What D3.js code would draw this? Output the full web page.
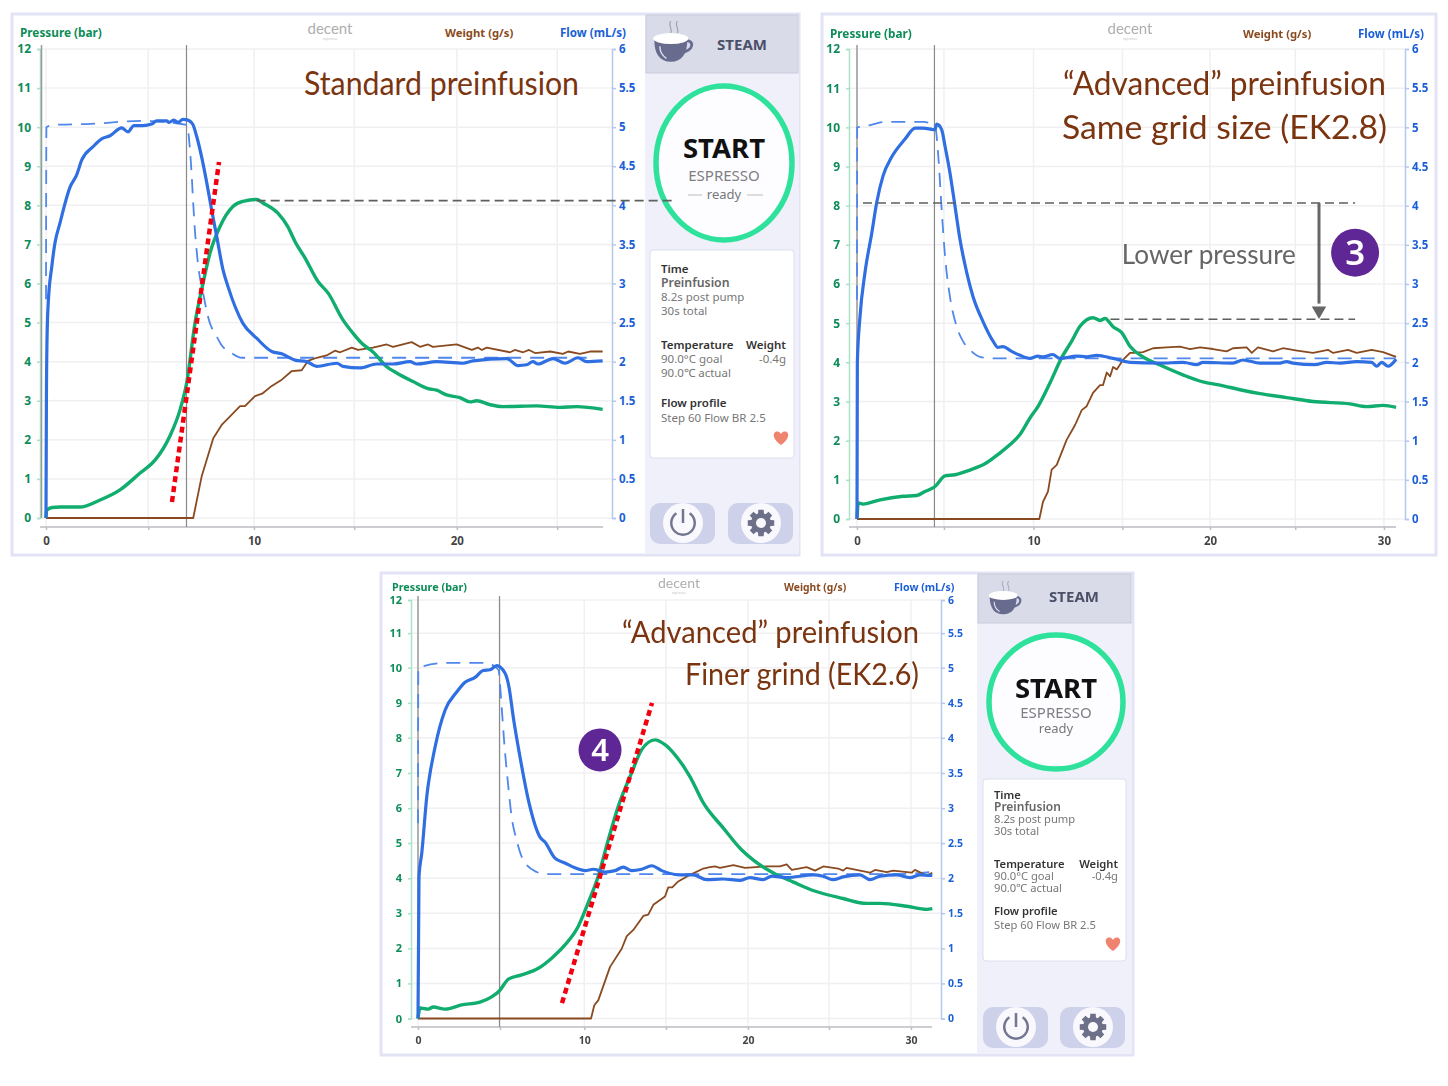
<!DOCTYPE html>
<html>
<head>
<meta charset="utf-8">
<title>Preinfusion comparison</title>
<script src="https://cdn.jsdelivr.net/npm/d3@7/dist/d3.min.js"></script>
<style>
  html, body { margin: 0; padding: 0; background: #fff; }
  svg { display: block; filter: blur(0.35px); }
  text { font-family: "Noto Sans", "Open Sans", sans-serif; }
</style>
</head>
<body>
<div id="chart"></div>
<script>
/* Three espresso shot graphs: [seconds, value] pairs.
   Pressure is in bar (left axis), flow and weight on the right axis. */

var PRESSURE_TICKS = [0, 1, 2, 3, 4, 5, 6, 7, 8, 9, 10, 11, 12];
// the lower chart's rows are slightly uneven in the picture
var FINE_PRESSURE_TICKS = [0, 1.006, 2.01, 3.02, 4.02, 5.03, 6.03, 7.04, 8.05, 9.05, 10.06, 11.05, 12];

// the time gridlines in the picture are a little uneven, so these are read too
var STD_TIME_TICKS = [0, 5, 10.17, 15.07, 20.09, 25];
var ADV_TIME_TICKS = [0, 4.94, 10.03, 15.08, 20.06, 24.9, 29.94];
var FINE_TIME_TICKS = [0, 5, 10.14, 15.12, 20.12, 25.06, 30.06];

var STD_PRESSURE = [[0,0],[0.03,0.2],[0.3,0.27],[0.68,0.28],[1.66,0.28],[2.64,0.46],[3.62,0.72],[4.6,1.15],[5.33,1.48],[6.06,2.1],[6.55,2.76],[6.88,3.46],[7.29,5.0],[7.68,6.01],[8.02,6.78],[8.51,7.46],[9.14,7.97],[9.63,8.1],[10.3,8.15],[10.61,8.06],[11.34,7.8],[11.83,7.45],[12.18,7.07],[12.67,6.65],[13.3,6.05],[13.79,5.76],[14.52,5.07],[15.01,4.73],[15.44,4.47],[15.99,4.25],[16.66,3.87],[17.15,3.71],[17.95,3.49],[18.68,3.31],[19.1,3.27],[19.59,3.15],[20.24,3.08],[20.73,2.97],[21.06,3.0],[21.71,2.9],[22.35,2.85],[24.0,2.87],[25.13,2.83],[25.95,2.85],[27.22,2.78]];
var STD_FLOW = [[0,0],[0.02,1.5],[0.05,2.28],[0.11,2.75],[0.28,3.21],[0.44,3.52],[0.68,3.77],[1.17,4.23],[1.5,4.39],[1.75,4.58],[2.3,4.75],[2.72,4.85],[3.13,4.89],[3.7,4.99],[4.01,4.94],[4.3,5.02],[4.74,5.02],[5.17,5.04],[5.41,5.08],[5.9,5.08],[6.01,5.06],[6.26,5.09],[6.45,5.06],[6.7,5.1],[6.94,5.09],[7.17,5.04],[7.37,4.88],[7.61,4.62],[7.86,4.29],[8.1,3.94],[8.35,3.6],[8.66,3.17],[8.9,2.96],[9.63,2.49],[10.3,2.3],[11.04,2.13],[11.53,2.1],[12.18,2.02],[12.75,2.0],[13.24,1.94],[14.22,1.98],[14.52,1.94],[15.35,1.92],[16.17,1.97],[16.97,1.97],[17.8,2.0],[18.13,1.97],[19.1,2.0],[20.39,1.98],[20.88,2.01],[22.53,2.04],[23.08,1.95],[23.5,1.96],[23.81,2.0],[24.06,1.97],[24.79,2.04],[25.38,1.98],[26.01,2.05],[26.44,2.0],[27.22,2.01]];
var STD_FLOW_GOAL = [[0,2.8],[0.02,5.0],[0.44,5.03],[2,5.04],[4.7,5.08],[6.9,5.03],[7.04,4.71],[7.29,3.65],[7.45,3.21],[7.68,2.88],[7.97,2.53],[8.35,2.32],[8.59,2.21],[9.08,2.11],[9.57,2.05],[10.3,2.05],[26.44,2.05]];
var STD_WEIGHT = [[0,0],[7.2,0],[7.61,0.53],[8.18,1.02],[8.59,1.19],[9.0,1.3],[9.49,1.43],[9.73,1.43],[10.22,1.56],[10.57,1.59],[11.04,1.69],[11.53,1.77],[12.02,1.88],[12.5,1.89],[12.81,2.01],[13.24,2.05],[13.72,2.08],[14.13,2.14],[14.38,2.12],[14.95,2.18],[15.26,2.15],[15.99,2.18],[16.66,2.22],[16.97,2.19],[17.88,2.25],[18.29,2.19],[18.68,2.22],[18.92,2.19],[20.08,2.22],[20.82,2.15],[21.12,2.18],[21.31,2.15],[21.55,2.18],[22.69,2.12],[22.93,2.15],[23.33,2.12],[23.62,2.15],[23.91,2.11],[24.65,2.13],[25.28,2.1],[25.53,2.13],[26.11,2.1],[26.6,2.13],[27.22,2.13]];

var ADV_PRESSURE = [[0,0],[0.07,0.41],[0.34,0.38],[1.31,0.49],[2.61,0.58],[3.39,0.6],[3.86,0.7],[4.43,0.83],[5.0,1.1],[5.57,1.13],[6.42,1.25],[7.27,1.41],[8.13,1.69],[8.7,1.9],[9.26,2.16],[9.83,2.58],[10.28,2.87],[10.97,3.48],[11.63,4.12],[12.2,4.54],[12.67,4.92],[13.41,5.14],[13.81,5.07],[14.09,5.12],[14.55,4.91],[15.04,4.76],[15.51,4.41],[16.25,4.14],[17.22,3.93],[18.52,3.68],[19.66,3.5],[20.63,3.42],[21.76,3.3],[22.9,3.2],[24.41,3.1],[25.91,3.0],[28.01,2.94],[28.96,2.87],[29.89,2.9],[30.63,2.85]];
var ADV_FLOW = [[0,0],[0.02,2.0],[0.17,2.58],[0.45,3.14],[0.84,3.65],[1.12,4.04],[1.48,4.38],[1.97,4.62],[2.73,4.85],[3.3,4.99],[3.75,4.99],[4.43,4.97],[4.53,5.04],[4.81,4.97],[5.0,4.76],[5.28,4.42],[5.57,3.99],[5.85,3.57],[6.23,3.15],[6.59,2.84],[7.16,2.52],[7.73,2.27],[8.01,2.19],[8.28,2.2],[8.79,2.14],[9.26,2.09],[9.83,2.05],[10.28,2.08],[10.57,2.07],[11.12,2.1],[11.53,2.05],[12.48,2.08],[13.05,2.07],[13.62,2.09],[14.55,2.05],[15.51,2.0],[17.22,1.99],[18.52,2.0],[19.3,1.97],[19.66,2.0],[21.36,1.99],[21.93,2.03],[22.9,1.99],[24.03,1.99],[24.41,2.01],[24.77,1.99],[26.02,1.97],[26.69,2.0],[27.44,1.99],[28.39,2.01],[29.24,2.0],[29.53,1.95],[29.81,2.0],[30.17,1.95],[30.63,2.04]];
var ADV_FLOW_GOAL = [[0,2.8],[0.01,5.0],[0.36,5.01],[1.69,5.07],[3.75,5.07],[4.43,5.02],[4.62,4.63],[4.81,3.95],[5.0,3.36],[5.28,2.84],[5.66,2.46],[6.02,2.27],[6.42,2.16],[6.99,2.07],[7.73,2.05],[30.6,2.05]];
var ADV_WEIGHT = [[0,0],[10.36,0],[10.57,0.22],[10.85,0.35],[11.06,0.63],[11.35,0.69],[11.91,1.01],[12.39,1.2],[12.77,1.39],[13.05,1.44],[13.41,1.61],[13.81,1.71],[13.98,1.71],[14.19,1.87],[14.38,1.82],[14.55,1.94],[14.76,1.91],[15.11,2.03],[15.51,2.12],[15.68,2.12],[16.25,2.13],[16.82,2.18],[17.6,2.19],[18.35,2.2],[18.92,2.17],[19.49,2.19],[20.23,2.17],[21.0,2.14],[21.36,2.18],[22.14,2.19],[22.43,2.12],[22.78,2.19],[23.64,2.14],[24.2,2.18],[25.0,2.15],[25.91,2.12],[26.76,2.16],[27.05,2.12],[27.9,2.16],[28.39,2.12],[29.24,2.16],[29.89,2.13],[30.63,2.07]];

var FINE_PRESSURE = [[0,0],[0.12,0.3],[0.63,0.27],[0.93,0.33],[1.65,0.27],[2.66,0.39],[3.78,0.47],[4.49,0.62],[4.96,0.79],[5.51,1.13],[6.32,1.25],[7.34,1.44],[8.15,1.73],[8.96,2.11],[9.77,2.64],[10.38,3.32],[10.99,4.08],[11.6,5.12],[12.21,6.08],[13.03,7.05],[13.64,7.71],[14.45,7.99],[15.06,7.85],[15.67,7.56],[16.59,6.93],[17.4,6.18],[18.62,5.46],[19.74,4.83],[20.45,4.54],[21.67,4.17],[22.89,3.91],[24.09,3.67],[25.92,3.44],[27.35,3.3],[28.17,3.3],[29.8,3.22],[31.02,3.13],[31.36,3.15]];
var FINE_FLOW = [[0,0],[0.06,2.03],[0.23,2.37],[0.53,3.17],[1.04,3.89],[1.65,4.42],[2.36,4.68],[2.87,4.82],[3.48,4.89],[3.98,4.99],[4.39,5.0],[4.8,5.06],[5.31,4.95],[5.55,4.75],[5.81,4.32],[6.22,3.75],[6.77,3.09],[7.44,2.6],[7.74,2.53],[8.35,2.3],[8.96,2.23],[9.57,2.16],[10.18,2.12],[10.69,2.14],[11.4,2.1],[12.01,2.12],[12.52,2.17],[13.03,2.12],[13.64,2.14],[14.25,2.19],[14.86,2.12],[15.98,2.06],[16.77,2.06],[17.6,1.99],[18.6,2.0],[19.63,1.98],[20.24,2.02],[21.04,1.99],[21.57,2.04],[22.48,2.02],[24.09,2.06],[24.7,2.04],[25.3,1.99],[25.91,2.03],[26.95,2.06],[27.56,1.99],[28.17,2.04],[29.19,2.06],[30.0,2.02],[30.61,2.06],[31.36,2.05]];
var FINE_FLOW_GOAL = [[0,2.8],[0.02,5.03],[1.85,5.1],[4.09,5.1],[4.9,5.0],[5.1,4.47],[5.26,3.95],[5.51,3.32],[5.71,2.89],[6.01,2.56],[6.42,2.27],[7.24,2.1],[7.74,2.07],[29.0,2.07],[31.3,2.1]];
var FINE_WEIGHT = [[0,0],[10.55,0],[10.75,0.19],[10.99,0.26],[11.71,0.74],[12.42,1.0],[12.73,1.18],[13.13,1.27],[13.74,1.47],[14.04,1.49],[14.35,1.63],[15.06,1.75],[15.26,1.88],[15.5,1.88],[15.84,1.96],[16.59,2.06],[17.4,2.15],[17.8,2.17],[18.11,2.18],[18.41,2.16],[19.23,2.2],[19.94,2.16],[21.26,2.18],[22.07,2.18],[22.48,2.21],[22.79,2.13],[23.7,2.17],[24.21,2.12],[24.71,2.18],[25.62,2.15],[25.92,2.12],[26.13,2.16],[27.56,2.09],[27.87,2.13],[28.58,2.1],[28.98,2.12],[30.1,2.09],[30.3,2.13],[31.02,2.05],[31.36,2.09]];

var COLOR_PRESSURE = '#10ad6e';
var COLOR_FLOW = '#2f6fe2';
var COLOR_GOAL = '#4f87ec';
var COLOR_WEIGHT = '#8a4a20';
var COLOR_TITLE = '#7b3410';
var COLOR_FRAME = '#e2e4f5';
var COLOR_SIDE = '#eff0fa';
var COLOR_PURPLE = '#5e2795';

var svg = d3.select('#chart').append('svg')
  .attr('width', 1448)
  .attr('height', 1086);

function addText(g, x, y, str, size, color, weight, anchor) {
  return g.append('text')
    .attr('x', x).attr('y', y)
    .attr('font-size', size)
    .attr('fill', color)
    .attr('font-weight', weight || 400)
    .attr('text-anchor', anchor || 'start')
    .text(str);
}

function drawChart(c) {
  var g = svg.append('g');

  g.append('rect')
    .attr('x', c.frame[0]).attr('y', c.frame[1])
    .attr('width', c.frame[2]).attr('height', c.frame[3])
    .attr('fill', '#fff').attr('stroke', COLOR_FRAME).attr('stroke-width', 3);

  var x = d3.scaleLinear().domain([0, 10]).range([c.x0, c.x10]);
  var yP = d3.scaleLinear().domain([0, 12]).range([c.yBottom, c.yTop]);
  var yF = d3.scaleLinear().domain([0, 6]).range([c.yBottom, c.yTop]);
  var flowTicks = c.levelTicks.map(function (d) { return d / 2; });

  // gridlines
  g.append('g').selectAll('line').data(c.levelTicks).join('line')
    .attr('x1', c.leftX).attr('x2', c.rightX)
    .attr('y1', yP).attr('y2', yP)
    .attr('stroke', '#f0f0f2').attr('stroke-width', 1.5);
  g.append('g').selectAll('line').data(c.timeTicks).join('line')
    .attr('x1', x).attr('x2', x)
    .attr('y1', c.yTop).attr('y2', c.axisY)
    .attr('stroke', '#f0f0f3').attr('stroke-width', 1.5);

  // axes
  var left = g.append('g')
    .attr('transform', 'translate(' + c.leftX + ',0)')
    .call(d3.axisLeft(yP).tickValues(c.levelTicks).tickSize(3).tickPadding(6)
      .tickFormat(function (d) { return Math.round(d); }));
  left.selectAll('path, line').attr('stroke', '#a9e2c6').attr('stroke-width', 1.5);
  left.selectAll('text').attr('fill', '#0d8c58').attr('font-weight', 700)
    .attr('font-size', c.tickFont);

  var right = g.append('g')
    .attr('transform', 'translate(' + c.rightX + ',0)')
    .call(d3.axisRight(yF).tickValues(flowTicks).tickSize(4).tickPadding(3)
      .tickFormat(function (d) { return Math.round(d * 2) / 2; }));
  right.selectAll('path, line').attr('stroke', '#b3c8ee').attr('stroke-width', 1.5);
  right.selectAll('text').attr('fill', '#1b5fd6').attr('font-weight', 700)
    .attr('font-size', c.tickFont - 0.5);

  var bottom = g.append('g')
    .attr('transform', 'translate(0,' + c.axisY + ')')
    .call(d3.axisBottom(x).tickValues(c.timeTicks).tickSize(3).tickPadding(7)
      .tickFormat(function (d) {
        var label = Math.round(d / 5) * 5;
        return label % 10 === 0 ? label : '';
      }));
  bottom.select('.domain').attr('d', 'M' + c.leftX + ',0H' + c.xEnd);
  bottom.selectAll('path, line').attr('stroke', '#bdbdc2').attr('stroke-width', 1.5);
  bottom.selectAll('text').attr('fill', '#444').attr('font-weight', 700)
    .attr('font-size', c.tickFont - 0.5);

  // pump start and phase change markers
  g.append('line')
    .attr('x1', c.zeroLineX).attr('x2', c.zeroLineX)
    .attr('y1', c.yTop - 4).attr('y2', c.yBottom)
    .attr('stroke', '#9a9a9a').attr('stroke-width', 1.5);
  g.append('line')
    .attr('x1', x(c.stepAt)).attr('x2', x(c.stepAt))
    .attr('y1', c.yTop - 4).attr('y2', c.axisY)
    .attr('stroke', '#8a8a8a').attr('stroke-width', 1.2);

  // header labels
  addText(g, c.headX[0], c.headY, 'Pressure (bar)', c.headFont, '#0d8c58', 700);
  addText(g, c.headX[1], c.headY, 'Weight (g/s)', c.headFont - 0.5, '#8a4a20', 700);
  addText(g, c.headX[2], c.headY, 'Flow (mL/s)', c.headFont - 0.2, '#1b5fd6', 700);
  addText(g, c.logoX, c.logoY, 'decent', c.logoFont, '#aeaeae', 400, 'middle')
    .style('font-family', 'Lato');
  addText(g, c.logoX, c.logoY + 6, 'espresso', 3.5, '#c4c4c4', 400, 'middle');

  // titles
  c.titles.forEach(function (t) {
    addText(g, t.x, t.y, t.text, t.size, COLOR_TITLE, 400, t.anchor)
      .style('font-family', 'Lato')
      .attr('textLength', t.width)
      .attr('lengthAdjust', 'spacingAndGlyphs');
  });

  // series
  var lineP = d3.line().curve(d3.curveMonotoneX)
    .x(function (d) { return x(d[0]); }).y(function (d) { return yP(d[1]); });
  var lineF = d3.line().curve(d3.curveMonotoneX)
    .x(function (d) { return x(d[0]); }).y(function (d) { return yF(d[1]); });
  var lineW = d3.line()
    .x(function (d) { return x(d[0]); }).y(function (d) { return yF(d[1]); });

  function series(data, gen, color, width, dash) {
    g.append('path')
      .attr('d', gen(data))
      .attr('fill', 'none')
      .attr('stroke', color)
      .attr('stroke-width', width)
      .attr('stroke-linejoin', 'round')
      .attr('stroke-dasharray', dash || null);
  }

  series(c.goal, lineF, COLOR_GOAL, 1.8, '14 9');
  series(c.weight, lineW, COLOR_WEIGHT, 1.8);
  series(c.pressure, lineP, COLOR_PRESSURE, 3.4);
  series(c.flow, lineF, COLOR_FLOW, 3.2);

  return { x: x, y: yP };
}

function cupIcon(g, cx, cy, s) {
  var ic = g.append('g').attr('transform', 'translate(' + cx + ',' + cy + ') scale(' + s + ')');
  ic.append('path').attr('d', 'M-2,-20 C-5,-16 0,-13 -2,-9 M4,-20 C1,-16 6,-13 4,-9')
    .attr('fill', 'none').attr('stroke', '#9a9dae').attr('stroke-width', 1);
  ic.append('path').attr('d', 'M10,-2 C20,-4 20,8 6,9').attr('fill', 'none')
    .attr('stroke', '#676c8e').attr('stroke-width', 2.5);
  ic.append('path').attr('d', 'M-17,-3 H13 C13,10 8,17 -2,17 C-12,17 -17,10 -17,-3 Z').attr('fill', '#676c8e');
  ic.append('path').attr('d', 'M-12,3 C-12,8 -9,12 -6,14').attr('fill', 'none')
    .attr('stroke', '#e6e7f2').attr('stroke-width', 1.2);
  ic.append('ellipse').attr('cx', -2).attr('cy', -4).attr('rx', 16).attr('ry', 5).attr('fill', '#fff');
}

function gearPath(r) {
  var pts = [];
  d3.range(8).forEach(function (i) {
    var a = i * Math.PI / 4;
    [[-0.3, 0.74], [-0.2, 1], [0.2, 1], [0.3, 0.74]].forEach(function (p) {
      pts.push([Math.cos(a + p[0]) * r * p[1], Math.sin(a + p[0]) * r * p[1]]);
    });
  });
  return d3.line().curve(d3.curveLinearClosed)(pts);
}

function drawSidebar(s) {
  var g = svg.append('g');

  g.append('rect').attr('x', s.x).attr('y', s.y).attr('width', s.w).attr('height', s.h)
    .attr('fill', COLOR_SIDE);
  g.append('rect').attr('x', s.x + 1).attr('y', s.y).attr('width', s.w - 2).attr('height', s.steamH)
    .attr('fill', '#d9dbe9').attr('stroke', '#c9cbdc');
  cupIcon(g, s.cupX, s.cupY, s.cupScale);
  addText(g, s.steamX, s.steamY, 'STEAM', 15, '#4b5068', 700, 'middle');

  g.append('ellipse').attr('cx', s.cx).attr('cy', s.cy).attr('rx', s.rx).attr('ry', s.ry)
    .attr('fill', '#fdfdff').attr('stroke', '#2ee29c').attr('stroke-width', 5.5);
  addText(g, s.cx, s.startY, 'START', 27.5, '#111', 700, 'middle');
  addText(g, s.cx, s.espressoY, 'ESPRESSO', 15, '#7e7e84', 400, 'middle');
  addText(g, s.cx, s.readyY, 'ready', 13, '#77777c', 400, 'middle');
  if (s.readyDash) {
    [[-36, -22], [23, 39]].forEach(function (d) {
      g.append('line').attr('x1', s.cx + d[0]).attr('x2', s.cx + d[1])
        .attr('y1', s.readyY - 4).attr('y2', s.readyY - 4)
        .attr('stroke', '#bbb').attr('stroke-width', 1);
    });
  }

  g.append('rect').attr('x', s.cardX).attr('y', s.cardY).attr('width', s.cardW).attr('height', s.cardH)
    .attr('rx', 3).attr('fill', '#fff').attr('stroke', '#dcdef0');

  var tx = s.cardX + 11;
  var fs = s.cardFont;
  addText(g, tx, s.rows[0], 'Time', fs, '#333', 600);
  addText(g, tx, s.rows[1], 'Preinfusion', fs + 0.8, '#666', 600);
  addText(g, tx, s.rows[2], '8.2s post pump', fs, '#777');
  addText(g, tx, s.rows[3], '30s total', fs, '#777');
  addText(g, tx, s.rows[4], 'Temperature', fs, '#333', 600);
  addText(g, s.cardX + s.cardW - 8, s.rows[4], 'Weight', fs, '#333', 600, 'end');
  addText(g, tx, s.rows[5], '90.0°C goal', fs, '#777');
  addText(g, s.cardX + s.cardW - 8, s.rows[5], '-0.4g', fs, '#777', 400, 'end');
  addText(g, tx, s.rows[6], '90.0℃ actual', fs, '#777');
  addText(g, tx, s.rows[7], 'Flow profile', fs, '#333', 600);
  addText(g, tx, s.rows[8], 'Step 60 Flow BR 2.5', fs, '#777');

  g.append('path')
    .attr('transform', 'translate(' + s.heartX + ',' + s.heartY + ')')
    .attr('d', 'M0,7 C-10,0 -8,-7 -3.5,-6.5 C-1.5,-6.3 -0.5,-5 0,-4 C0.5,-5 1.5,-6.3 3.5,-6.5 C8,-7 10,0 0,7 Z')
    .attr('fill', '#f0836f');

  // power and settings buttons
  s.buttons.forEach(function (b, i) {
    g.append('rect').attr('x', b).attr('y', s.btnY).attr('width', 65).attr('height', 41)
      .attr('rx', 10).attr('fill', '#ced1ea');
    var cx = b + 33, cy = s.btnY + 20;
    g.append('circle').attr('cx', cx).attr('cy', cy).attr('r', 20).attr('fill', '#f8f8fd');
    if (i === 0) {
      g.append('path')
        .attr('d', d3.arc().innerRadius(10.5).outerRadius(13).startAngle(0.6).endAngle(Math.PI * 2 - 0.6)())
        .attr('transform', 'translate(' + cx + ',' + cy + ')')
        .attr('fill', '#73768f');
      g.append('line').attr('x1', cx).attr('x2', cx).attr('y1', cy - 14).attr('y2', cy)
        .attr('stroke', '#73768f').attr('stroke-width', 2.5);
    } else {
      g.append('path').attr('d', gearPath(13.5))
        .attr('transform', 'translate(' + cx + ',' + cy + ')')
        .attr('fill', '#6c7088');
      g.append('circle').attr('cx', cx).attr('cy', cy).attr('r', 5).attr('fill', '#f8f8fd');
    }
  });
}

var viewStd = drawChart({
  frame: [12, 14, 787, 541],
  x0: 46, x10: 250.5, xEnd: 603,
  yTop: 49, yBottom: 518, axisY: 527,
  leftX: 40, rightX: 612, zeroLineX: 41.5,
  timeTicks: STD_TIME_TICKS, levelTicks: PRESSURE_TICKS, stepAt: 6.87,
  tickFont: 12, headFont: 11.8, headX: [20, 445, 560], headY: 37,
  logoX: 330, logoY: 34, logoFont: 15,
  titles: [{ x: 304, y: 95, text: 'Standard preinfusion', size: 32, width: 275 }],
  pressure: STD_PRESSURE, flow: STD_FLOW, goal: STD_FLOW_GOAL, weight: STD_WEIGHT
});

drawSidebar({
  x: 645, y: 15, w: 154, h: 539, steamH: 58,
  cupX: 673, cupY: 43, cupScale: 1.1, steamX: 742, steamY: 50,
  cx: 724, cy: 163, rx: 68, ry: 77, readyDash: true,
  startY: 158, espressoY: 181, readyY: 199,
  cardX: 650, cardY: 250, cardW: 144, cardH: 208, cardFont: 11.5,
  rows: [273, 287, 301, 315, 349, 363, 377, 407, 422],
  heartX: 781, heartY: 438,
  buttons: [650, 728], btnY: 503
});

var viewAdv = drawChart({
  frame: [822, 14, 614, 541],
  x0: 857, x10: 1033, xEnd: 1396,
  yTop: 49, yBottom: 519, axisY: 527,
  leftX: 849, rightX: 1405, zeroLineX: 857,
  timeTicks: ADV_TIME_TICKS, levelTicks: PRESSURE_TICKS, stepAt: 4.4,
  tickFont: 12, headFont: 11.8, headX: [830, 1243, 1358], headY: 38,
  logoX: 1130, logoY: 34, logoFont: 15,
  titles: [
    { x: 1386, y: 95, text: '“Advanced” preinfusion', size: 32, anchor: 'end', width: 323 },
    { x: 1387, y: 139, text: 'Same grid size (EK2.8)', size: 32, anchor: 'end', width: 325 }
  ],
  pressure: ADV_PRESSURE, flow: ADV_FLOW, goal: ADV_FLOW_GOAL, weight: ADV_WEIGHT
});

var viewFine = drawChart({
  frame: [381, 573, 752, 482],
  x0: 418, x10: 582, xEnd: 932,
  yTop: 600, yBottom: 1018.5, axisY: 1027,
  leftX: 411, rightX: 941, zeroLineX: 418,
  timeTicks: FINE_TIME_TICKS, levelTicks: FINE_PRESSURE_TICKS, stepAt: 4.97,
  tickFont: 11, headFont: 10.8, headX: [392, 784, 894], headY: 591,
  logoX: 679, logoY: 588, logoFont: 14,
  titles: [
    { x: 919, y: 643, text: '“Advanced” preinfusion', size: 30, anchor: 'end', width: 297 },
    { x: 919, y: 685, text: 'Finer grind (EK2.6)', size: 30, anchor: 'end', width: 234 }
  ],
  pressure: FINE_PRESSURE, flow: FINE_FLOW, goal: FINE_FLOW_GOAL, weight: FINE_WEIGHT
});

drawSidebar({
  x: 977, y: 574, w: 155, h: 480, steamH: 49,
  cupX: 1005, cupY: 599, cupScale: 0.9, steamX: 1074, steamY: 602,
  cx: 1056, cy: 702, rx: 67, ry: 67, readyDash: false,
  startY: 698, espressoY: 718, readyY: 733,
  cardX: 983, cardY: 779, cardW: 143, cardH: 182, cardFont: 11.2,
  rows: [799, 811, 823, 835, 868, 880, 892, 915, 929],
  heartX: 1113, heartY: 944,
  buttons: [983, 1060], btnY: 1007
});

// annotations sit on top of the sidebars, the first dashed level runs into the button
var overlay = svg.append('g');

function dashedLevel(view, t0, t1, level) {
  overlay.append('line')
    .attr('x1', view.x(t0)).attr('x2', view.x(t1))
    .attr('y1', view.y(level)).attr('y2', view.y(level))
    .attr('stroke', '#5f5f5f').attr('stroke-width', 1.6)
    .attr('stroke-dasharray', '9 5');
}

function redSlope(view, a, b) {
  overlay.append('line')
    .attr('x1', view.x(a[0])).attr('y1', view.y(a[1]))
    .attr('x2', view.x(b[0])).attr('y2', view.y(b[1]))
    .attr('stroke', '#f3000f').attr('stroke-width', 4.5)
    .attr('stroke-dasharray', '6 4');
}

function badge(view, t, level, r, label) {
  var cx = view.x(t), cy = view.y(level);
  overlay.append('circle').attr('cx', cx).attr('cy', cy).attr('r', r).attr('fill', COLOR_PURPLE);
  addText(overlay, cx, cy + r * 0.5, label, r * 1.45, '#fff', 600, 'middle');
}

dashedLevel(viewStd, 10.3, 30.6, 8.12);
redSlope(viewStd, [6.16, 0.41], [8.46, 9.11]);

dashedLevel(viewAdv, 0.34, 28.3, 8.07);
dashedLevel(viewAdv, 14.4, 28.3, 5.1);
overlay.append('line')
  .attr('x1', viewAdv.x(26.25)).attr('x2', viewAdv.x(26.25))
  .attr('y1', viewAdv.y(8.07)).attr('y2', viewAdv.y(5.5))
  .attr('stroke', '#666').attr('stroke-width', 3);
overlay.append('path')
  .attr('d', d3.symbol().type(d3.symbolTriangle).size(90)())
  .attr('transform', 'translate(' + viewAdv.x(26.25) + ',' + viewAdv.y(5.32) + ') rotate(180)')
  .attr('fill', '#666');
addText(overlay, viewAdv.x(15.05), viewAdv.y(6.5), 'Lower pressure', 26, '#666')
  .style('font-family', 'Lato')
  .attr('textLength', 174)
  .attr('lengthAdjust', 'spacingAndGlyphs');
badge(viewAdv, 28.3, 6.8, 24, '3');

redSlope(viewFine, [8.78, 0.44], [14.27, 9.05]);
badge(viewFine, 11.1, 7.7, 21.5, '4');
</script>
</body>
</html>
